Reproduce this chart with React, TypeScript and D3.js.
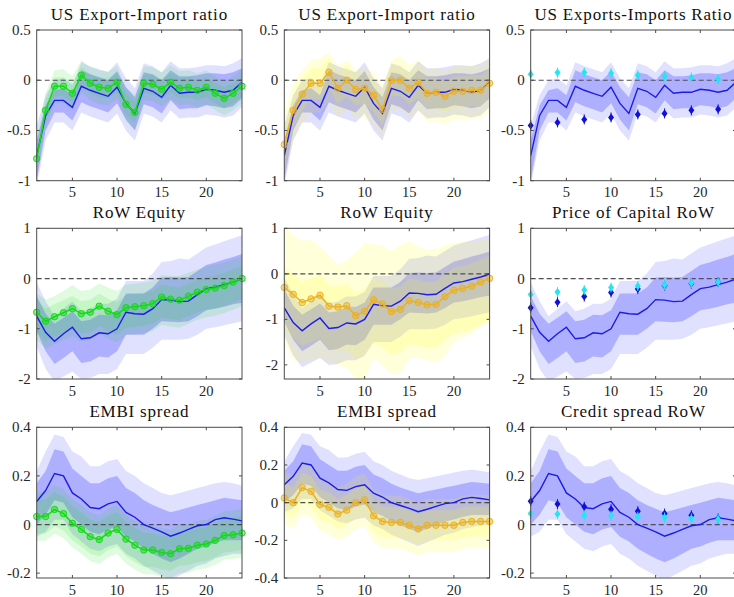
import React from "react";
import * as d3 from "d3";

// Horizons (quarters after the shock) and the subset with point estimates
const HORIZON = [1, 2, 3, 4, 5, 6, 7, 8, 9, 10, 11, 12, 13, 14, 15, 16, 17, 18, 19, 20, 21, 22, 23, 24];
const DIAMOND_H = [1, 4, 7, 10, 13, 16, 19, 22];

const TITLES = [
  ["US Export-Import ratio", "US Export-Import ratio", "US Exports-Imports Ratio"],
  ["RoW Equity", "RoW Equity", "Price of Capital RoW"],
  ["EMBI spread", "EMBI spread", "Credit spread RoW"],
];

// ---- Row 1: export-import ratio ----
const B1_MED = [-0.75, -0.35, -0.2, -0.2, -0.27, -0.06, -0.1, -0.13, -0.16, -0.07, -0.23, -0.33, -0.08, -0.11, -0.17, -0.05, -0.13, -0.12, -0.12, -0.09, -0.1, -0.12, -0.1, -0.02];
const B1_HI68 = [-0.6, -0.25, -0.1, -0.08, -0.15, 0.1, 0.06, 0.03, 0.0, 0.09, -0.07, -0.17, 0.08, 0.06, 0.0, 0.1, 0.04, 0.04, 0.05, 0.07, 0.07, 0.06, 0.08, 0.12];
const B1_LO68 = [-1.0, -0.5, -0.32, -0.32, -0.4, -0.22, -0.26, -0.29, -0.32, -0.23, -0.39, -0.5, -0.24, -0.27, -0.33, -0.2, -0.29, -0.28, -0.28, -0.25, -0.26, -0.28, -0.26, -0.18];
const B1_HI90 = [-0.45, -0.15, 0.0, 0.02, -0.05, 0.18, 0.14, 0.11, 0.08, 0.18, 0.02, -0.08, 0.17, 0.14, 0.08, 0.19, 0.12, 0.12, 0.13, 0.15, 0.15, 0.14, 0.17, 0.22];
const B1_LO90 = [-1.05, -0.6, -0.42, -0.42, -0.5, -0.32, -0.36, -0.39, -0.42, -0.33, -0.5, -0.6, -0.33, -0.36, -0.42, -0.3, -0.38, -0.37, -0.37, -0.34, -0.35, -0.37, -0.35, -0.27];

const G1_MED = [-0.78, -0.3, -0.06, -0.06, -0.13, 0.05, -0.03, -0.07, -0.08, -0.02, -0.24, -0.32, -0.03, -0.04, -0.09, -0.02, -0.08, -0.07, -0.1, -0.07, -0.13, -0.18, -0.13, -0.06];
const G1_HI68 = [-0.7, -0.2, 0.03, 0.03, -0.03, 0.13, 0.06, 0.03, 0.02, 0.08, -0.13, -0.22, 0.06, 0.05, 0.01, 0.07, 0.02, 0.03, 0.0, 0.03, -0.03, -0.07, -0.03, 0.04];
const G1_LO68 = [-0.88, -0.4, -0.16, -0.16, -0.23, -0.05, -0.13, -0.17, -0.18, -0.12, -0.34, -0.42, -0.13, -0.14, -0.19, -0.12, -0.18, -0.17, -0.2, -0.17, -0.23, -0.28, -0.23, -0.16];
const G1_HI90 = [-0.6, -0.13, 0.1, 0.11, 0.04, 0.2, 0.13, 0.1, 0.09, 0.14, -0.07, -0.15, 0.14, 0.13, 0.08, 0.15, 0.09, 0.1, 0.07, 0.1, 0.04, -0.01, 0.04, 0.11];
const G1_LO90 = [-0.95, -0.47, -0.23, -0.23, -0.3, -0.12, -0.2, -0.24, -0.25, -0.19, -0.41, -0.49, -0.2, -0.21, -0.26, -0.19, -0.25, -0.24, -0.27, -0.24, -0.3, -0.35, -0.3, -0.23];

const O1_MED = [-0.64, -0.3, -0.14, -0.03, -0.03, 0.08, -0.08, 0.0, -0.09, -0.08, -0.15, -0.29, 0.0, 0.0, -0.08, -0.02, -0.13, -0.12, -0.16, -0.11, -0.11, -0.1, -0.1, -0.03];
const O1_HI68 = [-0.5, -0.15, 0.01, 0.12, 0.12, 0.22, 0.07, 0.15, 0.06, 0.07, 0.0, -0.14, 0.15, 0.15, 0.07, 0.13, 0.02, 0.03, -0.01, 0.04, 0.04, 0.05, 0.05, 0.12];
const O1_LO68 = [-0.8, -0.46, -0.3, -0.19, -0.19, -0.08, -0.24, -0.16, -0.25, -0.24, -0.31, -0.45, -0.16, -0.16, -0.24, -0.18, -0.29, -0.28, -0.32, -0.27, -0.27, -0.26, -0.26, -0.19];
const O1_HI90 = [-0.33, -0.03, 0.1, 0.2, 0.22, 0.27, 0.15, 0.2, 0.1, 0.13, 0.08, -0.06, 0.2, 0.24, 0.15, 0.2, 0.11, 0.12, 0.09, 0.14, 0.14, 0.15, 0.15, 0.22];
const O1_LO90 = [-0.95, -0.6, -0.43, -0.32, -0.32, -0.22, -0.37, -0.3, -0.38, -0.37, -0.44, -0.57, -0.3, -0.29, -0.37, -0.31, -0.41, -0.4, -0.44, -0.39, -0.39, -0.38, -0.38, -0.31];

const D1_DARK = [-0.45, -0.42, -0.39, -0.37, -0.34, -0.33, -0.3, -0.29];
const D1_CYAN = [0.06, 0.076, 0.076, 0.07, 0.05, 0.04, 0.027, 0.01];

// ---- Row 2: equity / price of capital ----
const B2_MED = [-0.75, -1.07, -1.25, -1.1, -0.97, -1.2, -1.18, -1.08, -1.1, -1.0, -0.67, -0.7, -0.71, -0.6, -0.42, -0.43, -0.46, -0.45, -0.32, -0.2, -0.17, -0.12, -0.07, -0.01];
const B2_HI68 = [-0.35, -0.7, -0.9, -0.78, -0.65, -0.85, -0.82, -0.72, -0.73, -0.63, -0.3, -0.3, -0.3, -0.18, 0.02, 0.03, 0.02, 0.03, 0.15, 0.27, 0.32, 0.38, 0.43, 0.49];
const B2_LO68 = [-1.05, -1.45, -1.7, -1.58, -1.45, -1.68, -1.65, -1.55, -1.57, -1.45, -1.12, -1.12, -1.12, -1.0, -0.85, -0.86, -0.87, -0.85, -0.75, -0.63, -0.6, -0.56, -0.51, -0.48];
const B2_HI90 = [-0.08, -0.45, -0.75, -0.6, -0.45, -0.65, -0.6, -0.5, -0.5, -0.4, -0.05, -0.05, -0.05, 0.1, 0.33, 0.35, 0.4, 0.38, 0.5, 0.62, 0.68, 0.74, 0.8, 0.86];
const B2_LO90 = [-1.35, -1.8, -2.05, -1.95, -1.85, -2.0, -1.98, -1.9, -1.9, -1.8, -1.5, -1.5, -1.5, -1.38, -1.22, -1.22, -1.22, -1.2, -1.12, -1.0, -0.97, -0.93, -0.89, -0.85];

const G2_MED = [-0.67, -0.85, -0.76, -0.68, -0.6, -0.7, -0.67, -0.55, -0.65, -0.72, -0.58, -0.56, -0.54, -0.5, -0.37, -0.41, -0.43, -0.35, -0.27, -0.22, -0.19, -0.14, -0.07, 0.0];
const G2_HI68 = [-0.42, -0.6, -0.51, -0.43, -0.35, -0.45, -0.42, -0.3, -0.4, -0.47, -0.33, -0.31, -0.29, -0.25, -0.12, -0.16, -0.18, -0.1, -0.02, 0.03, 0.06, 0.11, 0.18, 0.25];
const G2_LO68 = [-1.07, -1.25, -1.16, -1.08, -1.0, -1.1, -1.07, -0.95, -1.05, -1.12, -0.98, -0.96, -0.94, -0.9, -0.77, -0.81, -0.83, -0.75, -0.67, -0.62, -0.59, -0.54, -0.47, -0.4];
const G2_HI90 = [-0.3, -0.42, -0.35, -0.25, -0.13, -0.25, -0.22, -0.1, -0.18, -0.25, -0.12, -0.1, -0.08, -0.04, 0.07, 0.05, 0.05, 0.12, 0.18, 0.24, 0.28, 0.32, 0.38, 0.44];
const G2_LO90 = [-1.22, -1.4, -1.31, -1.23, -1.15, -1.25, -1.22, -1.1, -1.2, -1.27, -1.13, -1.11, -1.09, -1.05, -0.92, -0.96, -0.98, -0.9, -0.82, -0.77, -0.74, -0.69, -0.62, -0.55];

const O2_MED = [-0.3, -0.45, -0.63, -0.55, -0.47, -0.71, -0.73, -0.7, -0.92, -0.82, -0.57, -0.66, -0.83, -0.78, -0.59, -0.63, -0.68, -0.67, -0.5, -0.36, -0.32, -0.27, -0.18, -0.1];
const O2_HI68 = [0.15, 0.0, -0.18, -0.1, -0.02, -0.25, -0.27, -0.22, -0.42, -0.32, -0.1, -0.18, -0.33, -0.28, -0.1, -0.13, -0.18, -0.17, 0.0, 0.14, 0.18, 0.23, 0.32, 0.4];
const O2_LO68 = [-1.2, -1.4, -1.58, -1.5, -1.42, -1.66, -1.68, -1.65, -1.87, -1.77, -1.52, -1.61, -1.78, -1.73, -1.54, -1.58, -1.63, -1.62, -1.45, -1.31, -1.27, -1.22, -1.13, -1.05];
const O2_HI90 = [1.05, 0.85, 0.72, 0.75, 0.6, 0.4, 0.2, 0.3, 0.45, 0.68, 0.65, 0.62, 0.5, 0.62, 0.72, 0.6, 0.52, 0.55, 0.62, 0.68, 0.7, 0.72, 0.74, 0.75];
const O2_LO90 = [-1.5, -1.9, -1.95, -1.9, -1.85, -1.95, -2.0, -2.05, -2.3, -2.35, -1.85, -2.0, -2.2, -2.2, -1.85, -1.85, -1.9, -1.95, -1.8, -1.5, -1.4, -1.3, -1.15, -1.0];

const D2_DARK = [-0.58, -0.47, -0.36, -0.28, -0.21, -0.14, -0.1, -0.07];
const D2_CYAN = [-0.32, -0.27, -0.23, -0.18, -0.15, -0.13, -0.09, -0.07];

// ---- Row 3: spreads ----
const B3_MED = [0.095, 0.14, 0.21, 0.2, 0.13, 0.105, 0.07, 0.065, 0.085, 0.095, 0.05, 0.03, 0.0, -0.015, -0.03, -0.048, -0.035, -0.02, -0.005, 0.0, 0.02, 0.028, 0.022, 0.015];
const B3_HI68 = [0.17, 0.22, 0.31, 0.3, 0.23, 0.2, 0.17, 0.17, 0.19, 0.2, 0.15, 0.13, 0.1, 0.08, 0.065, 0.05, 0.06, 0.07, 0.08, 0.09, 0.1, 0.11, 0.105, 0.1];
const B3_LO68 = [0.0, 0.04, 0.1, 0.09, 0.03, 0.0, -0.03, -0.04, -0.02, -0.01, -0.05, -0.07, -0.1, -0.12, -0.14, -0.155, -0.14, -0.12, -0.1, -0.09, -0.075, -0.065, -0.065, -0.065];
const B3_HI90 = [0.22, 0.3, 0.37, 0.36, 0.3, 0.28, 0.24, 0.24, 0.26, 0.27, 0.22, 0.2, 0.17, 0.15, 0.13, 0.12, 0.13, 0.14, 0.15, 0.16, 0.17, 0.175, 0.17, 0.16];
const B3_LO90 = [-0.05, -0.03, 0.02, 0.02, -0.04, -0.07, -0.1, -0.11, -0.09, -0.08, -0.12, -0.14, -0.17, -0.19, -0.21, -0.23, -0.21, -0.19, -0.17, -0.16, -0.14, -0.13, -0.12, -0.12];

const G3_MED = [0.033, 0.033, 0.062, 0.045, 0.005, -0.02, -0.05, -0.062, -0.035, -0.02, -0.06, -0.085, -0.105, -0.105, -0.115, -0.12, -0.1, -0.098, -0.085, -0.08, -0.065, -0.045, -0.042, -0.035];
const G3_HI68 = [0.103, 0.103, 0.132, 0.115, 0.075, 0.05, 0.02, 0.008, 0.035, 0.05, 0.01, -0.015, -0.035, -0.035, -0.045, -0.05, -0.03, -0.028, -0.015, -0.01, 0.005, 0.025, 0.028, 0.035];
const G3_LO68 = [-0.037, -0.037, -0.008, -0.025, -0.065, -0.09, -0.12, -0.132, -0.105, -0.09, -0.13, -0.155, -0.175, -0.175, -0.185, -0.19, -0.17, -0.168, -0.155, -0.15, -0.135, -0.115, -0.112, -0.105];
const G3_HI90 = [0.133, 0.133, 0.162, 0.145, 0.105, 0.08, 0.05, 0.038, 0.065, 0.08, 0.04, 0.015, -0.005, -0.005, -0.015, -0.02, 0.0, 0.002, 0.015, 0.02, 0.035, 0.055, 0.058, 0.065];
const G3_LO90 = [-0.067, -0.067, -0.038, -0.055, -0.095, -0.12, -0.15, -0.162, -0.135, -0.12, -0.16, -0.185, -0.205, -0.205, -0.215, -0.22, -0.2, -0.198, -0.185, -0.18, -0.165, -0.145, -0.142, -0.135];

const O3_MED = [0.025, 0.0, 0.08, 0.06, -0.01, -0.025, -0.06, -0.04, 0.0, 0.015, -0.07, -0.1, -0.105, -0.105, -0.12, -0.14, -0.12, -0.12, -0.12, -0.12, -0.105, -0.1, -0.1, -0.1];
const O3_HI68 = [0.105, 0.08, 0.16, 0.14, 0.07, 0.055, 0.02, 0.04, 0.08, 0.095, 0.01, -0.02, -0.025, -0.025, -0.04, -0.06, -0.04, -0.04, -0.04, -0.04, -0.025, -0.02, -0.02, -0.02];
const O3_LO68 = [-0.055, -0.08, 0.0, -0.02, -0.09, -0.105, -0.14, -0.12, -0.08, -0.065, -0.15, -0.18, -0.185, -0.185, -0.2, -0.22, -0.2, -0.2, -0.2, -0.2, -0.185, -0.18, -0.18, -0.18];
const O3_HI90 = [0.165, 0.14, 0.22, 0.2, 0.13, 0.115, 0.08, 0.1, 0.14, 0.155, 0.07, 0.04, 0.035, 0.035, 0.02, 0.0, 0.02, 0.02, 0.02, 0.02, 0.035, 0.04, 0.04, 0.04];
const O3_LO90 = [-0.115, -0.14, -0.06, -0.08, -0.15, -0.165, -0.2, -0.18, -0.14, -0.125, -0.21, -0.24, -0.245, -0.245, -0.26, -0.28, -0.26, -0.26, -0.26, -0.26, -0.245, -0.24, -0.24, -0.24];

const D3_DARK = [0.096, 0.084, 0.073, 0.063, 0.055, 0.045, 0.038, 0.025];
const D3_CYAN = [0.045, 0.043, 0.038, 0.036, 0.032, 0.029, 0.025, 0.022];

// Axis limits and ticks per panel [row][col]
const YLIM = [
  [[-1, 0.5], [-1, 0.5], [-1, 0.5]],
  [[-2, 1], [-2.31, 1], [-2, 1]],
  [[-0.22, 0.4], [-0.4, 0.4], [-0.22, 0.4]],
];
const YTICKS = [
  [[-1, -0.5, 0, 0.5], [-1, -0.5, 0, 0.5], [-1, -0.5, 0, 0.5]],
  [[-2, -1, 0, 1], [-2, -1, 0, 1], [-2, -1, 0, 1]],
  [[-0.2, 0, 0.2, 0.4], [-0.4, -0.2, 0, 0.2, 0.4], [-0.2, 0, 0.2, 0.4]],
];
const XTICKS = [5, 10, 15, 20];

type Band = { med: number[]; hi68: number[]; lo68: number[]; hi90: number[]; lo90: number[] };

const BASE: Band[] = [
  { med: B1_MED, hi68: B1_HI68, lo68: B1_LO68, hi90: B1_HI90, lo90: B1_LO90 },
  { med: B2_MED, hi68: B2_HI68, lo68: B2_LO68, hi90: B2_HI90, lo90: B2_LO90 },
  { med: B3_MED, hi68: B3_HI68, lo68: B3_LO68, hi90: B3_HI90, lo90: B3_LO90 },
];
const GREEN: Band[] = [
  { med: G1_MED, hi68: G1_HI68, lo68: G1_LO68, hi90: G1_HI90, lo90: G1_LO90 },
  { med: G2_MED, hi68: G2_HI68, lo68: G2_LO68, hi90: G2_HI90, lo90: G2_LO90 },
  { med: G3_MED, hi68: G3_HI68, lo68: G3_LO68, hi90: G3_HI90, lo90: G3_LO90 },
];
const ORANGE: Band[] = [
  { med: O1_MED, hi68: O1_HI68, lo68: O1_LO68, hi90: O1_HI90, lo90: O1_LO90 },
  { med: O2_MED, hi68: O2_HI68, lo68: O2_LO68, hi90: O2_HI90, lo90: O2_LO90 },
  { med: O3_MED, hi68: O3_HI68, lo68: O3_LO68, hi90: O3_HI90, lo90: O3_LO90 },
];
const DIAMONDS = [
  { dark: D1_DARK, cyan: D1_CYAN },
  { dark: D2_DARK, cyan: D2_CYAN },
  { dark: D3_DARK, cyan: D3_CYAN },
];

// Layout
const W = 734;
const H = 597;
const COL_X = [36.7, 284.3, 530.7];
const PANEL_W = 205.3;
const ROW_Y = [30, 228.3, 427.3];
const PANEL_H = 150.7;

const SERIF = "'Liberation Serif', 'Times New Roman', serif";
const BLUE = "#1c1ce6";
const GREEN_C = "#12dc12";
const ORANGE_C = "#edb120";

function fmt(v: number) {
  return String(v);
}

function Panel({ r, c }: { r: number; c: number }) {
  const x0 = COL_X[c];
  const y0 = ROW_Y[r];
  const x = d3.scaleLinear().domain([1, 24]).range([x0, x0 + PANEL_W]);
  const y = d3.scaleLinear().domain(YLIM[r][c]).range([y0 + PANEL_H, y0]);
  const clipId = `clip-${r}-${c}`;

  const bandPath = (lo: number[], hi: number[]) =>
    d3
      .area<number>()
      .x((h) => x(h))
      .y0((_, i) => y(lo[i]))
      .y1((_, i) => y(hi[i]))(HORIZON) as string;
  const linePath = (v: number[]) =>
    d3
      .line<number>()
      .x((h) => x(h))
      .y((_, i) => y(v[i]))(HORIZON) as string;

  const base = BASE[r];
  const alt = c === 0 ? GREEN[r] : c === 1 ? ORANGE[r] : null;
  const altFill = c === 0 ? "#00dd00" : "#ffff00";
  const altOp = c === 0 ? 0.12 : 0.15;
  const altLine = c === 0 ? GREEN_C : ORANGE_C;
  const tickLen = 3;
  const axisColor = "#4a4a4a";

  return (
    <g>
      <defs>
        <clipPath id={clipId}>
          <rect x={x0} y={y0} width={PANEL_W} height={PANEL_H} />
        </clipPath>
      </defs>
      <g clipPath={`url(#${clipId})`}>
        <path d={bandPath(base.lo90, base.hi90)} fill="#0000ff" fillOpacity={0.12} />
        <path d={bandPath(base.lo68, base.hi68)} fill="#0000ff" fillOpacity={0.22} />
        {alt && <path d={bandPath(alt.lo90, alt.hi90)} fill={altFill} fillOpacity={altOp} />}
        {alt && <path d={bandPath(alt.lo68, alt.hi68)} fill={altFill} fillOpacity={altOp} />}
        <line
          x1={x0}
          x2={x0 + PANEL_W}
          y1={y(0)}
          y2={y(0)}
          stroke="#4d4d55"
          strokeWidth={1.2}
          strokeDasharray="5,3"
        />
        <path d={linePath(base.med)} fill="none" stroke={BLUE} strokeWidth={1.4} />
      </g>
      {alt && (
        <g>
          <path d={linePath(alt.med)} fill="none" stroke={altLine} strokeWidth={1.5} />
          {HORIZON.map((h, i) => (
            <circle
              key={h}
              cx={x(h)}
              cy={y(alt.med[i])}
              r={3.2}
              fill={altLine}
              fillOpacity={0.45}
              stroke={altLine}
              strokeWidth={1}
            />
          ))}
        </g>
      )}
      {c === 2 && (
        <g>
          {DIAMOND_H.map((h, i) => {
            const cx = x(h);
            const cy = y(DIAMONDS[r].dark[i]);
            return (
              <g key={`d${h}`}>
                <line x1={cx} x2={cx} y1={cy - 5} y2={cy + 5} stroke="#1010d8" strokeWidth={1} />
                <path d={`M${cx},${cy - 4}L${cx + 3},${cy}L${cx},${cy + 4}L${cx - 3},${cy}Z`} fill="#1010d8" />
              </g>
            );
          })}
          {DIAMOND_H.map((h, i) => {
            const cx = x(h);
            const cy = y(DIAMONDS[r].cyan[i]);
            return (
              <g key={`c${h}`}>
                <line x1={cx} x2={cx} y1={cy - 5} y2={cy + 5} stroke="#22e6f0" strokeWidth={1} />
                <path d={`M${cx},${cy - 4}L${cx + 3},${cy}L${cx},${cy + 4}L${cx - 3},${cy}Z`} fill="#22e6f0" />
              </g>
            );
          })}
        </g>
      )}
      {/* frame */}
      <rect x={x0} y={y0} width={PANEL_W} height={PANEL_H} fill="none" stroke={axisColor} strokeWidth={1} />
      {/* y ticks */}
      {YTICKS[r][c].map((t) => (
        <g key={`y${t}`}>
          <line x1={x0} x2={x0 + tickLen} y1={y(t)} y2={y(t)} stroke={axisColor} />
          <line x1={x0 + PANEL_W} x2={x0 + PANEL_W - tickLen} y1={y(t)} y2={y(t)} stroke={axisColor} />
          <text
            x={x0 - 6}
            y={y(t)}
            textAnchor="end"
            dominantBaseline="central"
            fontFamily={SERIF}
            fontSize={15}
            fill="#262626"
          >
            {fmt(t)}
          </text>
        </g>
      ))}
      {/* x ticks */}
      {XTICKS.map((t) => (
        <g key={`x${t}`}>
          <line x1={x(t)} x2={x(t)} y1={y0 + PANEL_H} y2={y0 + PANEL_H - tickLen} stroke={axisColor} />
          <line x1={x(t)} x2={x(t)} y1={y0} y2={y0 + tickLen} stroke={axisColor} />
          <text
            x={x(t)}
            y={y0 + PANEL_H + 16.5}
            textAnchor="middle"
            fontFamily={SERIF}
            fontSize={14.5}
            fill="#262626"
          >
            {t}
          </text>
        </g>
      ))}
      <text
        x={x0 + PANEL_W / 2}
        y={y0 - 10}
        textAnchor="middle"
        fontFamily={SERIF}
        fontSize={17}
        letterSpacing={0.8}
        fill="#111"
      >
        {TITLES[r][c]}
      </text>
    </g>
  );
}

export default function App() {
  return (
    <svg
      width={W}
      height={H}
      viewBox={`0 0 ${W} ${H}`}
      style={{ position: "absolute", left: 0, top: 0, background: "#fff" }}
    >
      <rect width={W} height={H} fill="#fff" />
      {[0, 1, 2].map((r) => [0, 1, 2].map((c) => <Panel key={`${r}-${c}`} r={r} c={c} />))}
    </svg>
  );
}
